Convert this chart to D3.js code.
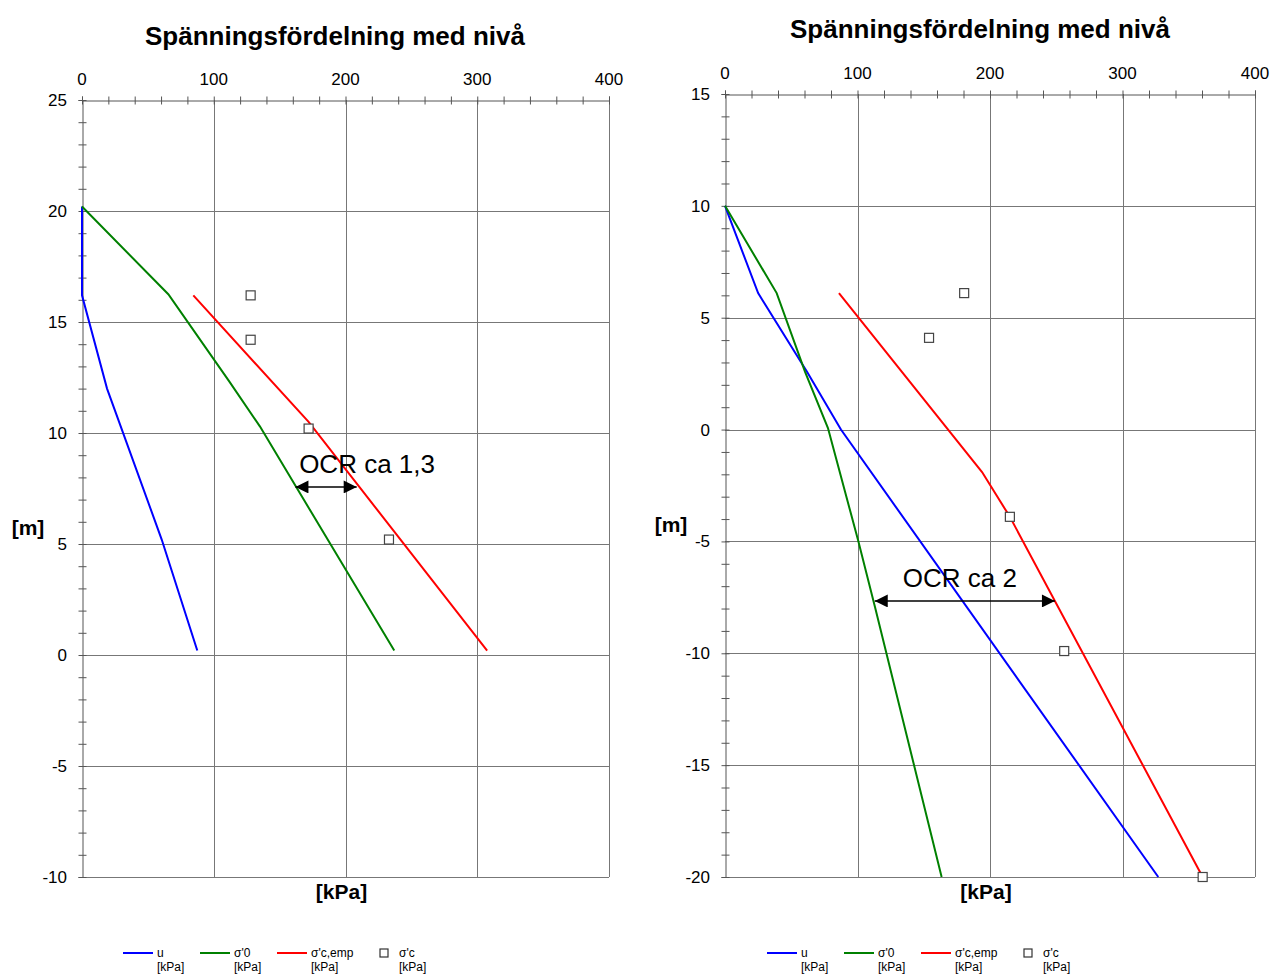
<!DOCTYPE html>
<html>
<head>
<meta charset="utf-8">
<script src="https://cdn.jsdelivr.net/npm/d3@7/dist/d3.min.js"></script>
<style>
  body { margin: 0; background: #fff; }
  svg { font-family: Arial, "Liberation Sans", sans-serif; }
</style>
</head>
<body>
<svg id="chart" width="1272" height="977"></svg>
<script>
// ---- data: [kPa, level m] ----
const titleText = 'Spänningsfördelning med nivå';
const legendNames = ['u', "σ'0", "σ'c,emp", "σ'c"];
const seriesColors = ['#0000ff', '#008000', '#ff0000'];

// left chart
const leftU     = [[0, 20.2], [0, 16.2], [19, 12], [60.5, 5.2], [87.5, 0.2]];
const leftSig0  = [[0, 20.2], [65.5, 16.25], [112, 12.3], [135, 10.3], [237, 0.2]];
const leftEmp   = [[84.5, 16.2], [172, 10.5], [307.5, 0.2]];
const leftSigC  = [[128, 16.2], [128, 14.2], [172, 10.2], [233, 5.2]];
const leftOcr   = { text: 'OCR ca 1,3', from: 162, to: 208.5, level: 7.57 };

// right chart
const rightU    = [[0, 10], [25, 6.1], [62, 2.57], [87.5, 0], [327, -20]];
const rightSig0 = [[0, 10], [39, 6.1], [60.5, 2.57], [77.7, 0.07], [100.4, -4.94], [113.2, -7.93], [163.5, -20]];
const rightEmp  = [[86, 6.1], [194, -1.9], [215, -3.9], [360.5, -20]];
const rightSigC = [[180.5, 6.1], [154, 4.1], [215, -3.9], [256, -9.9], [360.5, -20]];
const rightOcr  = { text: 'OCR ca 2', from: 113, to: 249, level: -7.66 };

const xTicks = [0, 100, 200, 300, 400];
const leftYTicks = [25, 20, 15, 10, 5, 0, -5, -10];
const rightYTicks = [15, 10, 5, 0, -5, -10, -15, -20];

const svg = d3.select('#chart');

svg.append('defs').append('marker')
  .attr('id', 'arrowHead')
  .attr('viewBox', '0 0 10 10')
  .attr('refX', 10).attr('refY', 5)
  .attr('markerWidth', 15).attr('markerHeight', 13)
  .attr('markerUnits', 'userSpaceOnUse')
  .attr('orient', 'auto-start-reverse')
  .append('path').attr('d', 'M0,0 L10,5 L0,10 Z').attr('fill', '#000');

function drawChart(cfg) {
  const g = svg.append('g');
  const x = d3.scaleLinear().domain([0, 400]).range([cfg.left, cfg.right]);
  const y = d3.scaleLinear().domain(cfg.yDomain).range([cfg.bottom, cfg.top]);

  // grid
  g.selectAll('.vgrid').data(xTicks.slice(1)).enter().append('line')
    .attr('x1', d => Math.round(x(d)) + 0.5).attr('x2', d => Math.round(x(d)) + 0.5)
    .attr('y1', cfg.top).attr('y2', cfg.bottom)
    .attr('stroke', '#777').attr('stroke-width', 1);
  g.selectAll('.hgrid').data(cfg.yTicks.slice(1)).enter().append('line')
    .attr('y1', d => Math.round(y(d)) + 0.5).attr('y2', d => Math.round(y(d)) + 0.5)
    .attr('x1', cfg.left).attr('x2', cfg.right)
    .attr('stroke', '#777').attr('stroke-width', 1);

  // axes with minor ticks
  const xAxis = d3.axisTop(x).tickValues(d3.range(0, 401, 20)).tickSize(4).tickFormat('');
  const ax = g.append('g').attr('transform', `translate(0,${Math.round(cfg.top) + 0.5})`).call(xAxis);
  ax.selectAll('.tick line').attr('y2', 4).attr('y1', -4).attr('stroke', '#555');
  ax.select('.domain').attr('stroke', '#555');

  const [y0, y1] = cfg.yDomain;
  const yAxis = d3.axisLeft(y).tickValues(d3.range(y0, y1 + 1, 1)).tickSize(4).tickFormat('');
  const ay = g.append('g').attr('transform', `translate(${Math.round(cfg.left) + 0.5},0)`).call(yAxis);
  ay.selectAll('.tick line').attr('x1', 4).attr('x2', -4).attr('stroke', '#555');
  ay.select('.domain').attr('stroke', '#555');

  // tick labels
  g.selectAll('.xl').data(xTicks).enter().append('text')
    .attr('x', d => x(d)).attr('y', cfg.top - 15)
    .attr('text-anchor', 'middle').attr('font-size', 17).attr('fill', '#000')
    .text(d => d);
  g.selectAll('.yl').data(cfg.yTicks).enter().append('text')
    .attr('x', cfg.left - 15).attr('y', d => y(d) + 6)
    .attr('text-anchor', 'end').attr('font-size', 17).attr('fill', '#000')
    .text(d => d);

  // titles
  g.append('text').attr('x', cfg.titleX).attr('y', cfg.titleY)
    .attr('text-anchor', 'middle').attr('font-size', 26).attr('font-weight', 'bold')
    .text(titleText);
  g.append('text').attr('x', cfg.left - 54).attr('y', (cfg.top + cfg.bottom) / 2 + 46)
    .attr('text-anchor', 'middle').attr('font-size', 21).attr('font-weight', 'bold')
    .text('[m]');
  g.append('text').attr('x', (cfg.left + cfg.right) / 2 - 4).attr('y', cfg.bottom + 22)
    .attr('text-anchor', 'middle').attr('font-size', 21).attr('font-weight', 'bold')
    .text('[kPa]');

  // lines
  const line = d3.line().x(d => x(d[0])).y(d => y(d[1]));
  cfg.series.forEach((s, i) => {
    g.append('path').datum(s).attr('d', line)
      .attr('fill', 'none').attr('stroke', seriesColors[i]).attr('stroke-width', 2);
  });

  // measured points
  g.selectAll('.pt').data(cfg.points).enter().append('rect')
    .attr('x', d => x(d[0]) - 4.5).attr('y', d => y(d[1]) - 4.5)
    .attr('width', 9).attr('height', 9)
    .attr('fill', '#fff').attr('stroke', '#444').attr('stroke-width', 1.2);

  // OCR annotation
  const o = cfg.ocr;
  g.append('line')
    .attr('x1', x(o.from)).attr('x2', x(o.to)).attr('y1', y(o.level)).attr('y2', y(o.level))
    .attr('stroke', '#000').attr('stroke-width', 1.5)
    .attr('marker-start', 'url(#arrowHead)').attr('marker-end', 'url(#arrowHead)');
  g.append('text')
    .attr('x', (x(o.from) + x(o.to)) / 2 + cfg.ocrDx).attr('y', y(o.level) - 14)
    .attr('text-anchor', 'middle').attr('font-size', 26).attr('fill', '#000')
    .text(o.text);

  // legend
  const lg = g.append('g').attr('transform', `translate(${cfg.legendX},953)`);
  legendNames.forEach((name, i) => {
    const gx = i * 77;
    if (i < 3) {
      lg.append('line').attr('x1', gx).attr('x2', gx + 30).attr('y1', 0).attr('y2', 0)
        .attr('stroke', seriesColors[i]).attr('stroke-width', 2);
      lg.append('text').attr('x', gx + 34).attr('y', 4).attr('font-size', 12).text(name);
      lg.append('text').attr('x', gx + 34).attr('y', 18).attr('font-size', 12).text('[kPa]');
    } else {
      const sx = gx + 26;
      lg.append('rect').attr('x', sx).attr('y', -4).attr('width', 8).attr('height', 8)
        .attr('fill', '#fff').attr('stroke', '#333').attr('stroke-width', 1.2);
      lg.append('text').attr('x', sx + 19).attr('y', 4).attr('font-size', 12).text(name);
      lg.append('text').attr('x', sx + 19).attr('y', 18).attr('font-size', 12).text('[kPa]');
    }
  });
}

drawChart({
  left: 82, right: 609, top: 100, bottom: 877,
  yDomain: [-10, 25], yTicks: leftYTicks,
  titleX: 335, titleY: 45,
  series: [leftU, leftSig0, leftEmp], points: leftSigC,
  ocr: leftOcr, ocrDx: 41, legendX: 123
});

drawChart({
  left: 725, right: 1255, top: 94, bottom: 877,
  yDomain: [-20, 15], yTicks: rightYTicks,
  titleX: 980, titleY: 38,
  series: [rightU, rightSig0, rightEmp], points: rightSigC,
  ocr: rightOcr, ocrDx: -5, legendX: 767
});
</script>
</body>
</html>
